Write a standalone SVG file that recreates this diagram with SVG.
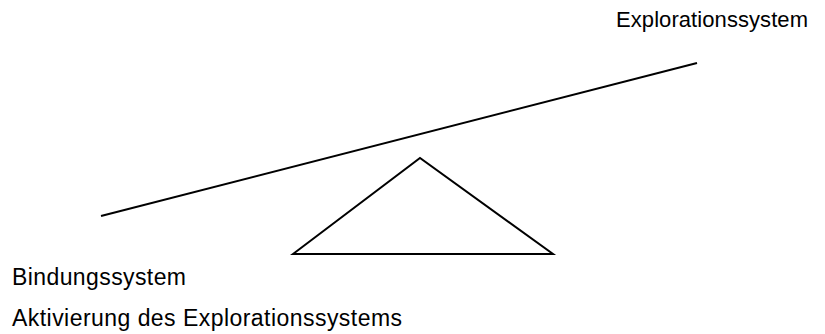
<svg xmlns="http://www.w3.org/2000/svg" width="825" height="334" viewBox="0 0 825 334">
<style>
.t{font-family:"Liberation Sans",Arial,sans-serif;font-size:22px;fill:#000}
.b{font-size:23px}
.s{fill:none;stroke:#000;stroke-width:2}
</style>
<rect width="825" height="334" fill="#fff"/>
<g id="connectors">
<line class="s" x1="101" y1="216" x2="697" y2="63"/>
</g>
<g id="fulcrum">
<polygon class="s" points="293,254 420,158 553,254"/>
</g>
<g id="label-exploration">
<text class="t" x="616" y="27" textLength="192" lengthAdjust="spacing">Explorationssystem</text>
</g>
<g id="label-bindung">
<text class="t b" x="12" y="285" textLength="174" lengthAdjust="spacing">Bindungssystem</text>
</g>
<g id="label-aktivierung">
<text class="t b" x="12" y="326" textLength="390" lengthAdjust="spacing">Aktivierung des Explorationssystems</text>
</g>
</svg>
